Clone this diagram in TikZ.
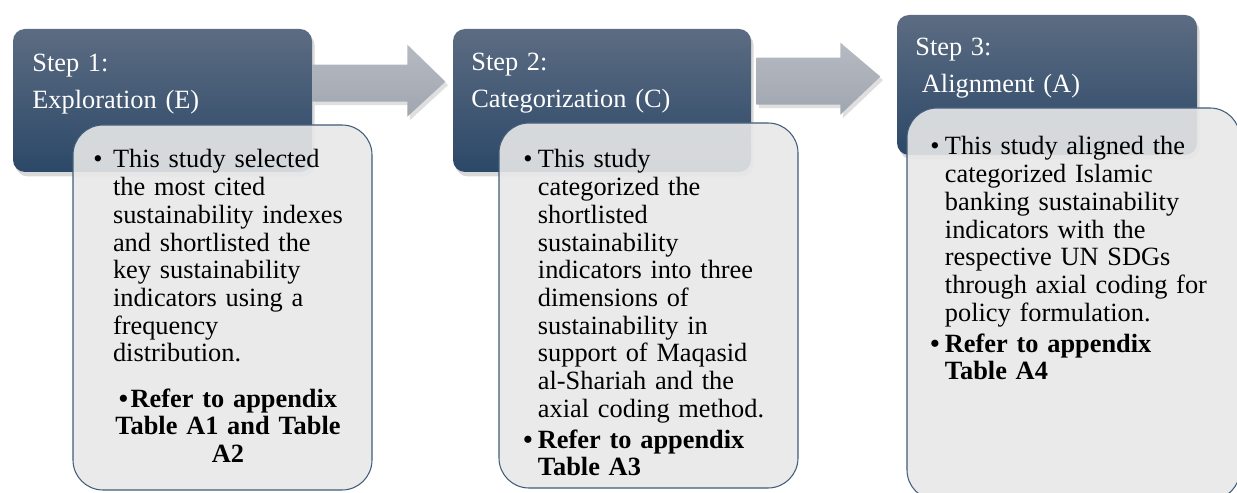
\documentclass[tikz,border=0pt]{standalone}
\usepackage{fontspec}
\setmainfont{Liberation Serif}
\usetikzlibrary{positioning, shadows, fit, calc}

\definecolor{steptop}{RGB}{92,108,130}
\definecolor{stepbot}{RGB}{44,72,104}
\definecolor{detailfill}{RGB}{232,232,232}
\definecolor{detailline}{RGB}{66,92,122}
\definecolor{arrowlight}{RGB}{182,186,194}
\definecolor{arrowdark}{RGB}{160,166,176}

\tikzset{
    stepbox/.style={inner sep=0pt, rounded corners=0.24cm, top color=steptop, bottom color=stepbot,
        drop shadow={opacity=0.3, shadow xshift=1.5pt, shadow yshift=-2.5pt}},
    detailbox/.style={inner sep=0pt, rounded corners=0.6cm, fill=detailfill, fill opacity=0.9,
        draw=detailline, line width=0.6pt},
    flowarrow/.style={top color=arrowlight, bottom color=arrowdark,
        drop shadow={opacity=0.25, shadow xshift=1.5pt, shadow yshift=-2pt}},
    steptext/.style={inner sep=0pt, anchor=base west, text=white, text width=5.5cm, align=left,
        font=\fontsize{15}{21}\selectfont},
    bodytext/.style={inner sep=0pt, anchor=base west, text width=5.6cm, align=left,
        font=\fontsize{15}{15.75}\selectfont},
    reftext/.style={bodytext, font=\fontsize{15}{15.75}\selectfont\bfseries},
}
\newcommand{\hangbullet}[2]{\noindent\makebox[#1][l]{\textbullet}\begin{tabular}[t]{@{}l@{}}#2\end{tabular}}

\begin{document}
\begin{tikzpicture}[x=0.02cm, y=-0.02cm]
    \useasboundingbox (0,0) rectangle (1237,493);

    % step boxes
    \node[stepbox, fit={(13,29) (312,172)}] (s1) {};
    \node[stepbox, fit={(453,29) (751,172)}] (s2) {};
    \node[stepbox, fit={(897,15) (1197,155)}] (s3) {};

    % block arrows
    \path[flowarrow] ($(s1.north east)+(0,36)$) -- ++(95,0) -- ++(0,-20) -- ++(38,37)
        -- ++(-38,35) -- ++(0,-15) -- ++(-95,0) -- cycle;
    \path[flowarrow] ($(s2.north east)+(5,29)$) -- ++(84,0) -- ++(0,-15) -- ++(40,34)
        -- ++(-40,38) -- ++(0,-10) -- ++(-84,0) -- cycle;

    % detail boxes
    \node[detailbox, fit={(73,125) (372,490)}] (d1) {};
    \node[detailbox, fit={(499,123) (798,488)}] (d2) {};
    \node[detailbox, fit={(907,108) (1240,500)}] (d3) {};

    % step titles
    \node[steptext] (t1) at (32,72) {Step 1:\\Exploration (E)};
    \node[steptext] (t2) at (471,71) {Step 2:\\Categorization (C)};
    \node[steptext] (t3) at (915,56) {Step 3:\\\hspace*{0.25em}Alignment (A)};

    % step 1 text
    \node[bodytext] (b1) at (93,168) {\hangbullet{11.2pt}{This study selected\\the most cited\\sustainability indexes\\and shortlisted the\\key sustainability\\indicators using a\\frequency\\distribution.}};
    \node[reftext, anchor=base, align=center, text width=5cm] (r1) at (228,407) {\textbullet\hspace{1.5pt}Refer to appendix\\Table A1 and Table\\A2};

    % step 2 text
    \node[bodytext] (b2) at (523,168) {\hangbullet{8.3pt}{This study\\categorized the\\shortlisted\\sustainability\\indicators into three\\dimensions of\\sustainability in\\support of Maqasid\\al-Shariah and the\\axial coding method.}};
    \node[reftext] (r2) at (523,448) {\hangbullet{8.3pt}{Refer to appendix\\Table A3}};

    % step 3 text
    \node[bodytext] (b3) at (930,155) {\hangbullet{8.3pt}{This study aligned the\\categorized Islamic\\banking sustainability\\indicators with the\\respective UN SDGs\\through axial coding for\\policy formulation.}};
    \node[reftext] (r3) at (930,352) {\hangbullet{8.3pt}{Refer to appendix\\Table A4}};
\end{tikzpicture}
\end{document}
